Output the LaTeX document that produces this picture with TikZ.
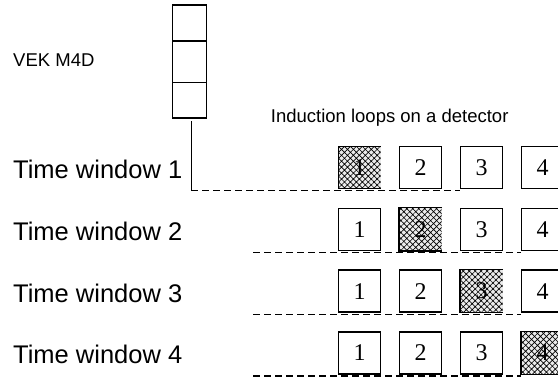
\documentclass[tikz,border=0pt]{standalone}
\usepackage{fontspec}
\setmainfont{Liberation Serif}
\setsansfont{Liberation Sans}
\usepackage{tikz}
\usetikzlibrary{patterns,patterns.meta,positioning,calc}

\tikzset{
  cell/.style={draw,line width=1.3pt,minimum width=34pt,inner sep=0pt,outer sep=0pt},
  loopbox/.style={draw,line width=1.3pt,minimum size=42pt,inner sep=0pt,font=\fontsize{24}{26}\selectfont},
  hatched/.style={draw=none,preaction={fill=gray!15},pattern={Hatch[angle=45,distance=4.2pt,line width=0.65pt]},pattern color=black},
  dashline/.style={line width=1.3pt,dash pattern=on 7pt off 4pt},
  rowlabel/.style={anchor=base west,inner sep=0pt,font=\sffamily\fontsize{25.5}{30}\selectfont},
  smalllabel/.style={anchor=base west,inner sep=0pt,font=\sffamily\fontsize{18.5}{22}\selectfont}
}

\begin{document}
\begin{tikzpicture}[x=1pt,y=-1pt]
\useasboundingbox (0,0) rectangle (558,378);
% detector stack
\node[cell,minimum height=36pt,anchor=north] (vek1) at (189.7,5) {};
\node[cell,minimum height=41.5pt,below=0pt of vek1] (vek2) {};
\node[cell,minimum height=35.5pt,below=0pt of vek2] (vek3) {};
\node[smalllabel] (vek) at (13,66.7) {VEK M4D};
\node[smalllabel] (title) at (270.7,122.3) {Induction loops on a detector};
% time windows and loops
\foreach \r/\y in {1/167.5,2/229.3,3/291.1,4/352.9}{
  \node[rowlabel] (tw\r) at (13,\y+11) {Time window \r};
  \foreach \i in {1,...,4}{
    \ifnum\i=\r
      \node[loopbox,hatched] (l\r\i) at ({359.5+61*(\i-1)},\y) {\i};
      \draw[line width=1.3pt] (l\r\i.north east) -| (l\r\i.south west) -- (l\r\i.south east);
    \else
      \node[loopbox] (l\r\i) at ({359.5+61*(\i-1)},\y) {\i};
    \fi
  }
  \coordinate (s\r) at (253,\y+23.2);
}
% connector from the detector
\draw[line width=1pt] ([xshift=1.3pt,yshift=-3.3pt]vek3.south) -- (191,190.7) coordinate (c1);
\draw[dashline] (c1) -- (l13.west |- c1);
\draw[dashline] (s2) -- (l24.west |- s2);
\draw[dashline] (s3) -- (l34.west |- s3);
\draw[dashline] (s4) -- (l44.west |- s4);
\end{tikzpicture}
\end{document}
